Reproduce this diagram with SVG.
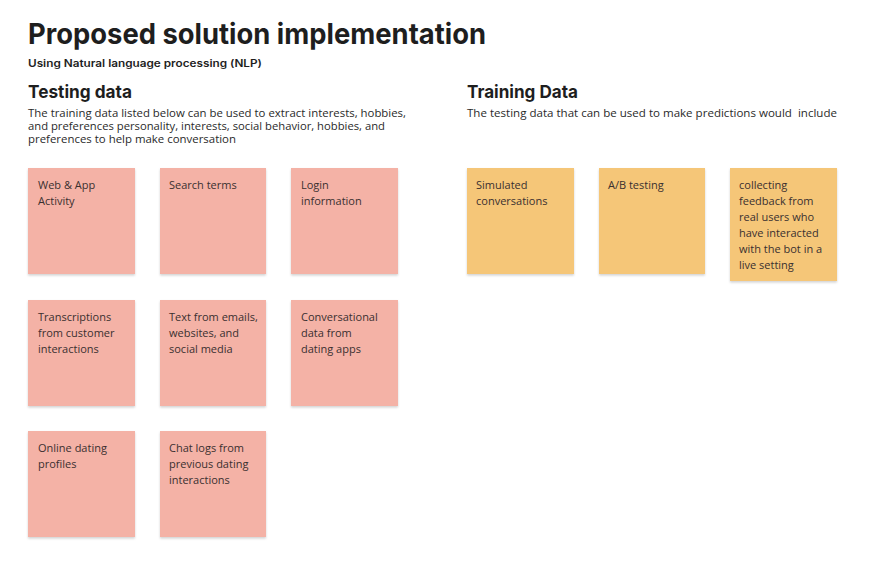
<svg xmlns="http://www.w3.org/2000/svg" width="882" height="567" viewBox="0 0 882 567">
<style>
.h1{font-family:Inter,"Liberation Sans",sans-serif;font-weight:700;font-size:29px;fill:#1e1e1e}
.sub{font-family:Inter,"Liberation Sans",sans-serif;font-weight:600;font-size:10px;fill:#1e1e1e}
.h2{font-family:Inter,"Liberation Sans",sans-serif;font-weight:700;font-size:18px;fill:#1e1e1e}
.desc{font-family:"Open Sans","Liberation Sans",sans-serif;font-size:10.5px;fill:#2a2a2a}
.st{font-family:"Open Sans","Liberation Sans",sans-serif;font-size:11px;fill:#3a3030}
.pink{fill:#f4b2a6}
.orange{fill:#f5c678}
</style>
<defs>
<filter id="sh" x="-10%" y="-10%" width="120%" height="125%">
<feDropShadow dx="0" dy="1.5" stdDeviation="1.2" flood-color="#000" flood-opacity="0.18"/>
</filter>
</defs>
<rect width="882" height="567" fill="#fff"/>
<text class="h1" x="28" y="44" textLength="458" lengthAdjust="spacingAndGlyphs">Proposed solution implementation</text>
<text class="sub" x="28" y="67" textLength="234" lengthAdjust="spacingAndGlyphs">Using Natural language processing (NLP)</text>
<text class="h2" x="28" y="98" textLength="104" lengthAdjust="spacingAndGlyphs">Testing data</text>
<text class="desc" x="28" y="117" textLength="378" lengthAdjust="spacingAndGlyphs">The training data listed below can be used to extract interests, hobbies,</text>
<text class="desc" x="28" y="130" textLength="357" lengthAdjust="spacingAndGlyphs">and preferences personality, interests, social behavior, hobbies, and</text>
<text class="desc" x="28" y="143" textLength="208" lengthAdjust="spacingAndGlyphs">preferences to help make conversation</text>
<text class="h2" x="467" y="98" textLength="111" lengthAdjust="spacingAndGlyphs">Training Data</text>
<text class="desc" x="467" y="117" textLength="370" lengthAdjust="spacingAndGlyphs" xml:space="preserve">The testing data that can be used to make predictions would  include</text>

<g id="n1"><rect class="pink" x="28" y="168" width="107" height="106" filter="url(#sh)"/><text class="st" x="38" y="189">Web &amp; App<tspan x="38" dy="16">Activity</tspan></text></g>
<g id="n2"><rect class="pink" x="160" y="168" width="106" height="106" filter="url(#sh)"/><text class="st" x="169" y="189">Search terms</text></g>
<g id="n3"><rect class="pink" x="291" y="168" width="107" height="106" filter="url(#sh)"/><text class="st" x="301" y="189">Login<tspan x="301" dy="16">information</tspan></text></g>
<g id="n4"><rect class="pink" x="28" y="300" width="107" height="106" filter="url(#sh)"/><text class="st" x="38" y="321">Transcriptions<tspan x="38" dy="16">from customer</tspan><tspan x="38" dy="16">interactions</tspan></text></g>
<g id="n5"><rect class="pink" x="160" y="300" width="106" height="106" filter="url(#sh)"/><text class="st" x="169" y="321">Text from emails,<tspan x="169" dy="16">websites, and</tspan><tspan x="169" dy="16">social media</tspan></text></g>
<g id="n6"><rect class="pink" x="291" y="300" width="107" height="106" filter="url(#sh)"/><text class="st" x="301" y="321">Conversational<tspan x="301" dy="16">data from</tspan><tspan x="301" dy="16">dating apps</tspan></text></g>
<g id="n7"><rect class="pink" x="28" y="431" width="107" height="106" filter="url(#sh)"/><text class="st" x="38" y="452">Online dating<tspan x="38" dy="16">profiles</tspan></text></g>
<g id="n8"><rect class="pink" x="160" y="431" width="106" height="106" filter="url(#sh)"/><text class="st" x="169" y="452">Chat logs from<tspan x="169" dy="16">previous dating</tspan><tspan x="169" dy="16">interactions</tspan></text></g>

<g id="n9"><rect class="orange" x="467" y="168" width="107" height="106" filter="url(#sh)"/><text class="st" x="476" y="189">Simulated<tspan x="476" dy="16">conversations</tspan></text></g>
<g id="n10"><rect class="orange" x="599" y="168" width="106" height="106" filter="url(#sh)"/><text class="st" x="608" y="189">A/B testing</text></g>
<g id="n11"><rect class="orange" x="730" y="168" width="107" height="113" filter="url(#sh)"/><text class="st" x="739" y="189">collecting<tspan x="739" dy="16">feedback from</tspan><tspan x="739" dy="16">real users who</tspan><tspan x="739" dy="16">have interacted</tspan><tspan x="739" dy="16">with the bot in a</tspan><tspan x="739" dy="16">live setting</tspan></text></g>
<g id="connectors"></g>
</svg>
